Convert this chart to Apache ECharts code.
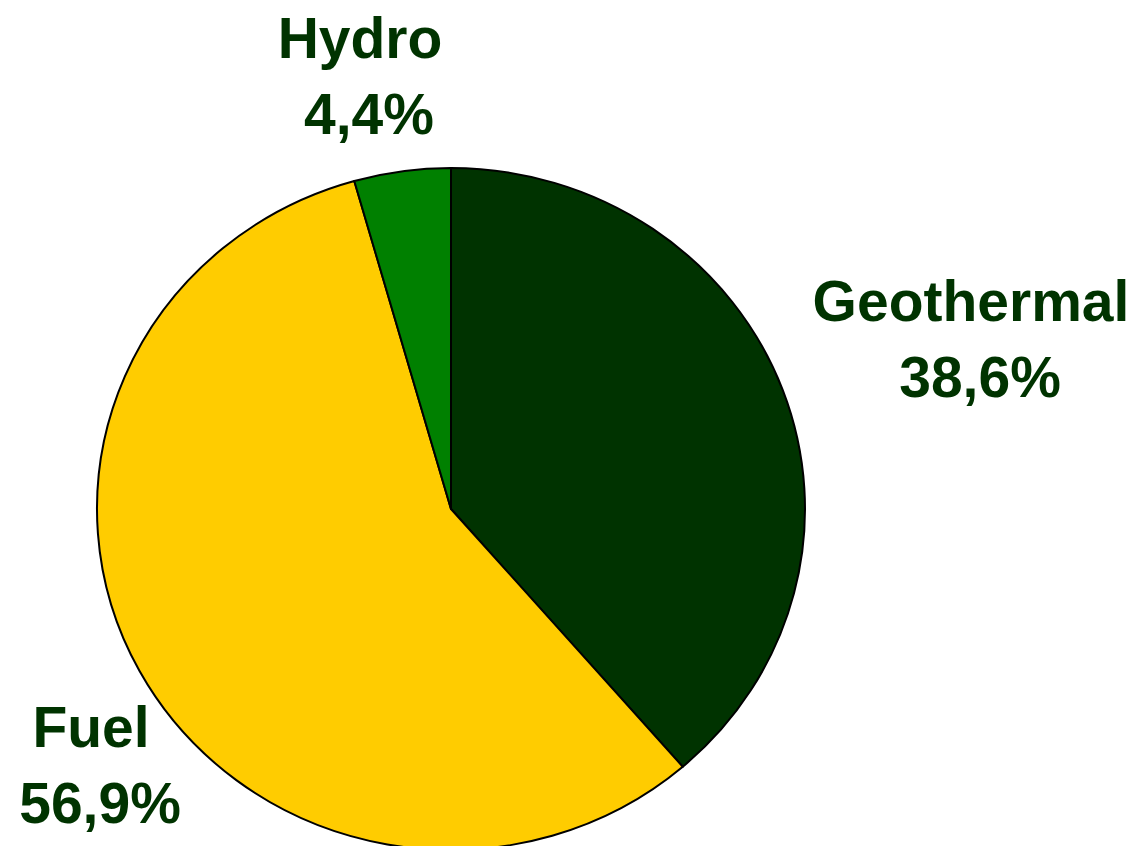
<!DOCTYPE html>
<html>
<head>
<meta charset="utf-8">
<script src="https://cdn.jsdelivr.net/npm/echarts@6/dist/echarts.min.js"></script>
<style>
html,body{margin:0;padding:0;background:#fff;overflow:hidden;width:1135px;height:846px;}
#pie{position:absolute;left:0;top:0;width:1135px;height:920px;transform:scaleY(0.9633);transform-origin:451px 509px;}
#labels{position:absolute;left:0;top:0;width:1135px;height:846px;}
</style>
</head>
<body>
<div id="pie"></div>
<div id="labels"></div>
<script>
const categories = ['Geothermal', 'Fuel', 'Hydro'];
const values = [38.6, 56.9, 4.4];
const colors = ['#003300', '#FFCC00', '#008000'];

const data = categories.map((c, i) => ({ name: c, value: values[i] }));
const labelPos = [[971, 343], [91, 769], [360, 80]];

const pieChart = echarts.init(document.getElementById('pie'), null, { renderer: 'svg' });
pieChart.setOption({
  animation: false,
  series: [{
    type: 'pie',
    center: [451, 509],
    radius: 354,
    startAngle: 90,
    clockwise: true,
    silent: true,
    data: data,
    label: { show: false },
    labelLine: { show: false },
    itemStyle: {
      color: p => colors[p.dataIndex],
      borderColor: '#000',
      borderWidth: 2
    },
    emphasis: { disabled: true }
  }]
});

const labelChart = echarts.init(document.getElementById('labels'));
labelChart.setOption({
  animation: false,
  series: [{
    type: 'pie',
    center: [451, 509],
    radius: 354,
    startAngle: 90,
    clockwise: true,
    silent: true,
    data: data,
    itemStyle: { color: 'transparent', borderWidth: 0 },
    emphasis: { disabled: true },
    labelLine: { show: false },
    label: {
      show: true,
      overflow: 'none',
      width: 400,
      formatter: p => '{n|' + p.name + '}\n{p|' + p.value.toFixed(1).replace('.', ',') + '%}',
      rich: {
        n: { fontFamily: 'Liberation Sans, Arial, sans-serif', fontWeight: 'bold', fontSize: 57, lineHeight: 76, color: '#003300' },
        p: { fontFamily: 'Liberation Sans, Arial, sans-serif', fontWeight: 'bold', fontSize: 57, lineHeight: 76, color: '#003300', padding: [0, 0, 0, 18] }
      }
    },
    labelLayout: p => ({
      x: labelPos[p.dataIndex][0],
      y: labelPos[p.dataIndex][1],
      align: 'center',
      verticalAlign: 'middle'
    })
  }]
});
</script>
</body>
</html>
